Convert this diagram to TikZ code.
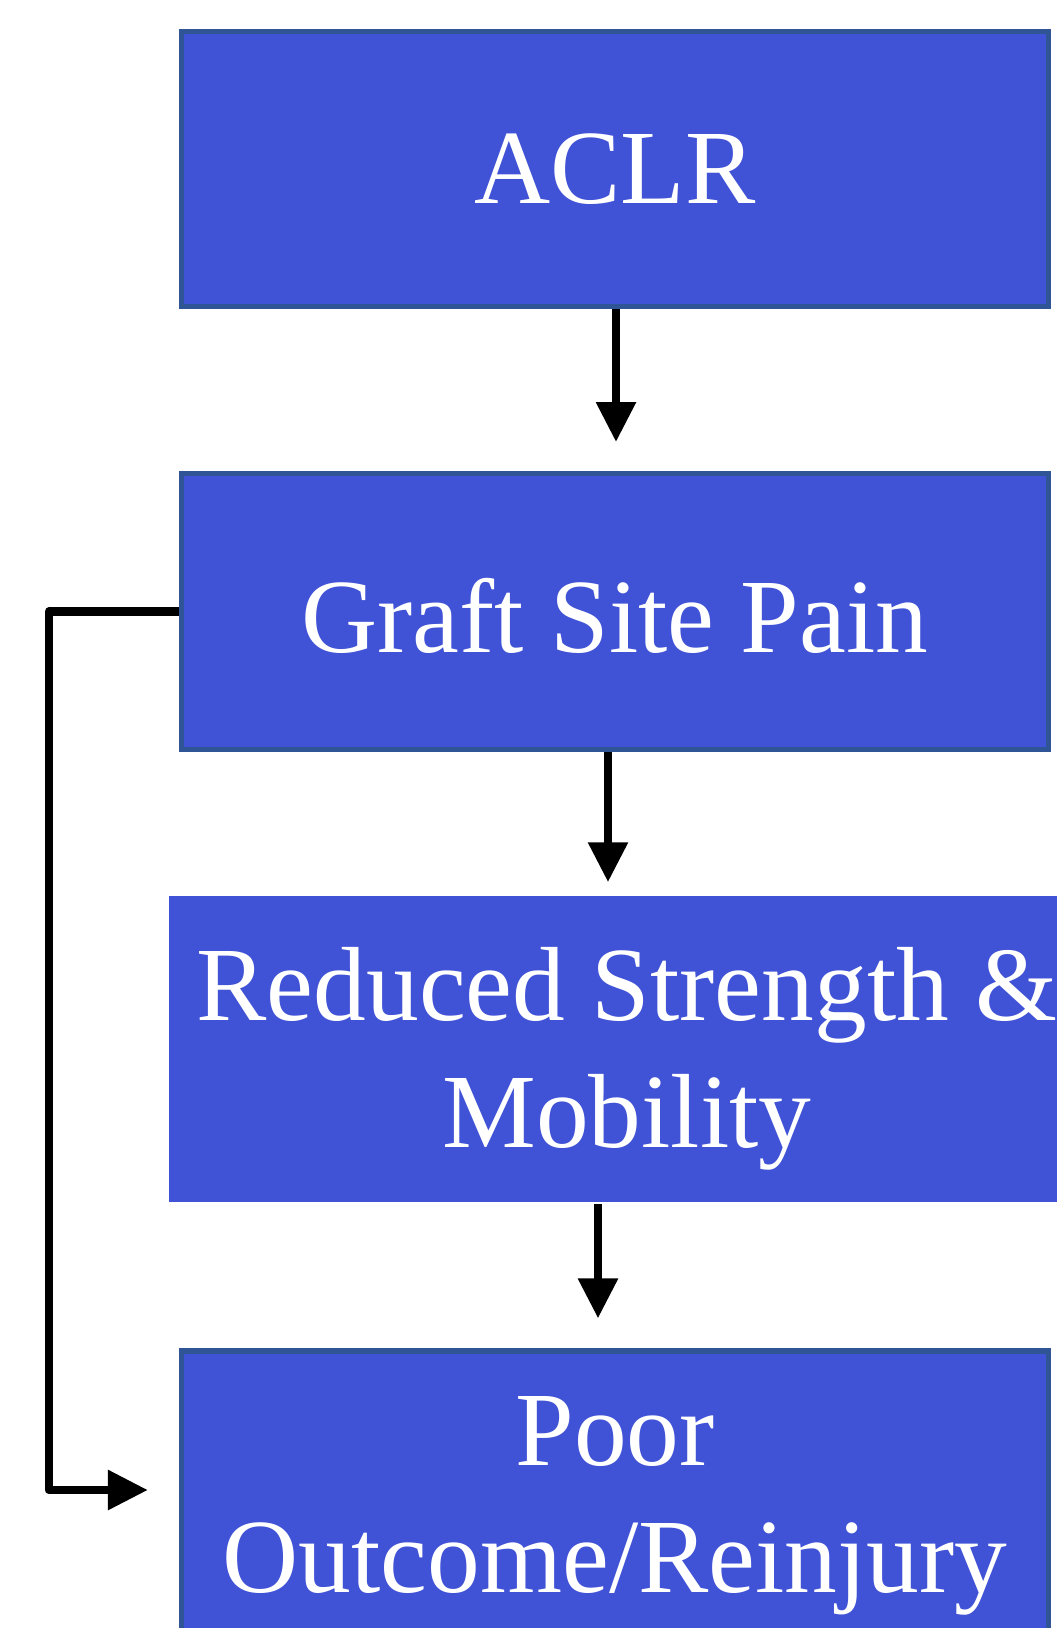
\documentclass[tikz,border=0pt]{standalone}
\usepackage{fontspec}
\setmainfont{Liberation Serif}
\usepackage{tikz}
\usetikzlibrary{arrows.meta, positioning}
\definecolor{boxblue}{RGB}{64,82,214}
\definecolor{boxedge}{RGB}{47,85,151}

\begin{document}
\begin{tikzpicture}[
    x=0.02cm, y=-0.02cm,
    box/.style={rectangle, fill=boxblue, draw=boxedge, line width=3pt, text=white,
        minimum width=17.34cm, minimum height=5.5cm, align=center, inner sep=0pt,
        font=\fontsize{60}{72}\selectfont},
    flow/.style={line width=5pt, line join=round, -{Triangle[width=0.76cm, length=0.8cm]}}
]
    \useasboundingbox (0,0) rectangle (1057,1628);

    \node[box] (aclr) at (615,169) {ACLR};
    \node[box, below=3.24cm of aclr, minimum height=5.52cm] (graft) {\rule{0pt}{47pt}Graft Site Pain};
    \node[box, draw=none, below=2.82cm of graft, xshift=0.24cm,
        minimum width=18.32cm, minimum height=6.12cm] (strength) {\rule{0pt}{53pt}Reduced Strength \&\\Mobility};
    \node[box, below=2.88cm of strength, xshift=-0.24cm, minimum height=6.2cm] (poor) {Poor\\Outcome/Reinjury};

    \coordinate (loop) at (49,1490);

    \draw[flow, shorten >=0.58cm] ([xshift=0.02cm]aclr.south) -- ([xshift=0.02cm]graft.north);
    \draw[flow, shorten >=0.22cm] ([xshift=-0.14cm]graft.south) -- ([xshift=-0.14cm]graft.south |- strength.north);
    \draw[flow, shorten >=0.6cm] ([xshift=-0.58cm]strength.south) -- ([xshift=-0.58cm]strength.south |- poor.north);
    \draw[flow, shorten >=0.62cm] (graft.west) -| (loop) -- (loop -| poor.west);
\end{tikzpicture}
\end{document}
